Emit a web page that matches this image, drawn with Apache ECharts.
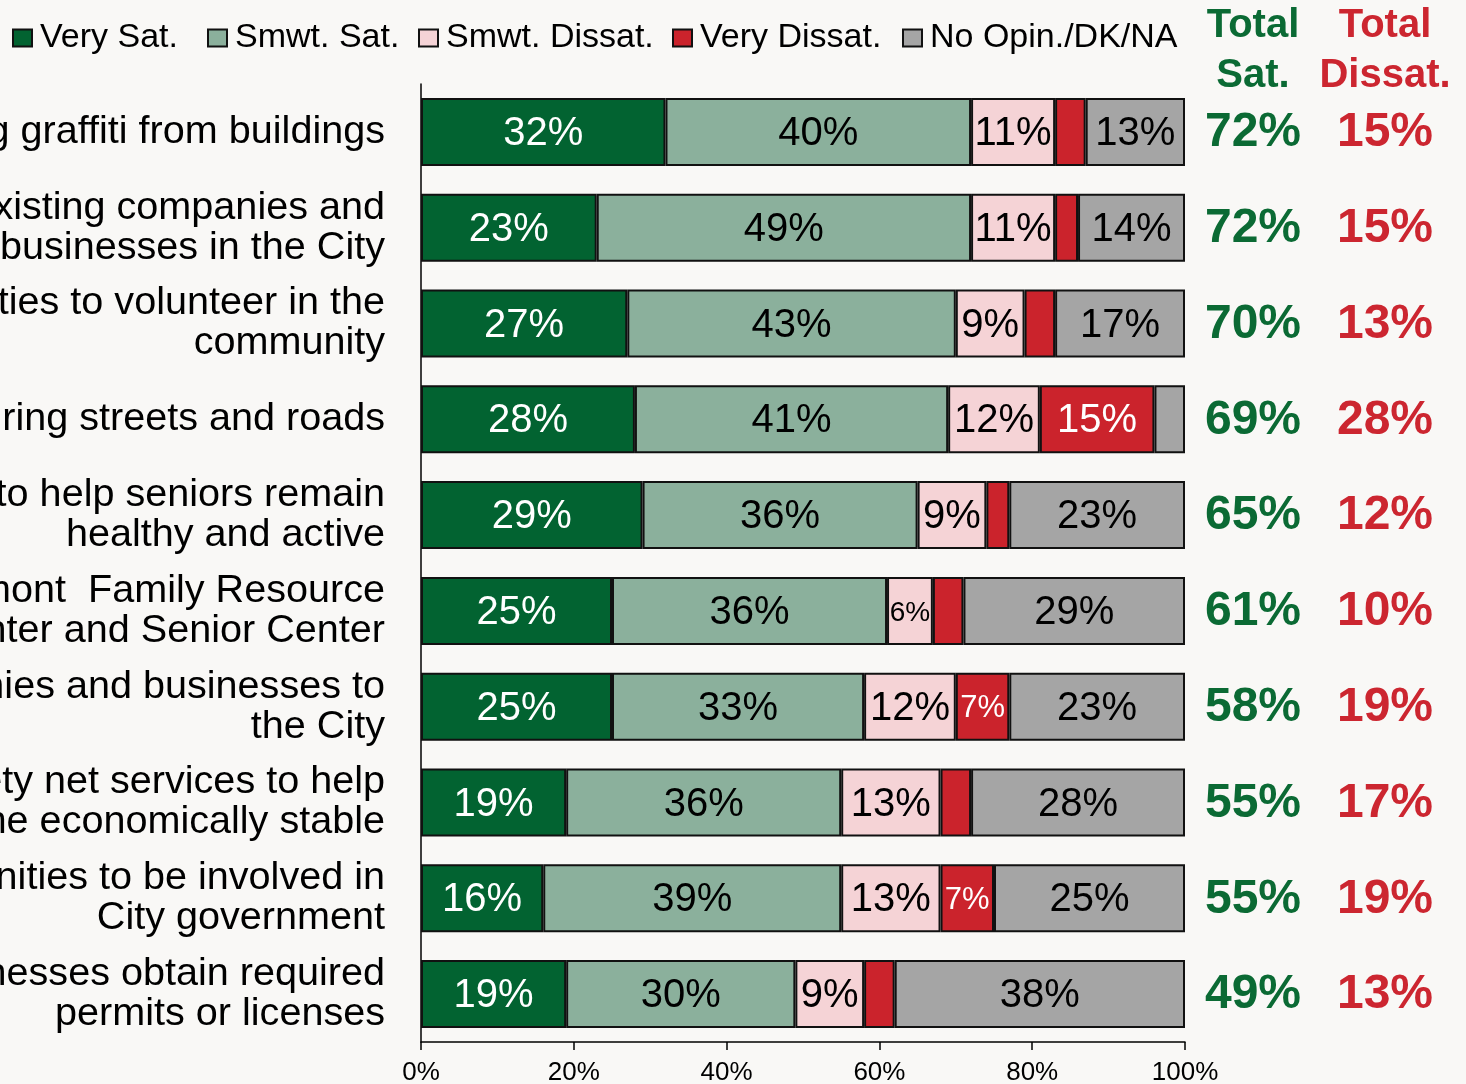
<!DOCTYPE html>
<html>
<head>
<meta charset="utf-8">
<title>Satisfaction with City Services</title>
<script src="https://cdn.jsdelivr.net/npm/echarts@6/dist/echarts.min.js"></script>
<style>
  html, body { margin: 0; padding: 0; background: #f9f8f6; }
  #chart { width: 1466px; height: 1084px; }
</style>
</head>
<body>
<div id="chart"></div>
<script>
// Survey items, top to bottom
const categories = [
  'Removing graffiti from buildings',
  'Retaining existing companies and\nbusinesses in the City',
  'Opportunities to volunteer in the\ncommunity',
  'Repairing streets and roads',
  'Programs to help seniors remain\nhealthy and active',
  'Fremont  Family Resource\nCenter and Senior Center',
  'Attracting new companies and businesses to\nthe City',
  'Providing safety net services to help\nresidents become economically stable',
  'Opportunities to be involved in\nCity government',
  'Helping businesses obtain required\npermits or licenses'
];

// Response shares (%)
const verySat    = [32, 23, 27, 28, 29, 25, 25, 19, 16, 19];
const smwtSat    = [40, 49, 43, 41, 36, 36, 33, 36, 39, 30];
const smwtDissat = [11, 11,  9, 12,  9,  6, 12, 13, 13,  9];
const veryDissat = [ 4,  3,  4, 15,  3,  4,  7,  4,  7,  4];
const noOpinion  = [13, 14, 17,  4, 23, 29, 23, 28, 25, 38];

// Summary columns (%)
const totalSat    = [72, 72, 70, 69, 65, 61, 58, 55, 55, 49];
const totalDissat = [15, 15, 13, 28, 12, 10, 19, 17, 19, 13];

const xTicks = [0, 20, 40, 60, 80, 100];
const summaryColumns = ['Total Sat.', 'Total Dissat.'];

const FONT = "'Liberation Sans', Arial, Helvetica, sans-serif";
const GREEN = '#026331';
const RED = '#cb232c';
const GREEN_TXT = '#0b6a34';
const RED_TXT = '#cc2630';

// Label size shrinks for narrow segments; the tiniest ones stay unlabeled
function segData(values) {
  return values.map(v => {
    let fs = 40;
    if (v < 6) return { value: v, label: { show: false } };
    if (v === 6) fs = 28;
    else if (v === 7) fs = 31;
    return { value: v, label: { fontSize: fs } };
  });
}

function barSeries(name, values, color, labelColor) {
  return {
    name: name,
    type: 'bar',
    stack: 'total',
    xAxisIndex: 0,
    yAxisIndex: 0,
    barWidth: 68,
    data: segData(values),
    itemStyle: { color: color, borderColor: '#111', borderWidth: 2 },
    label: {
      show: true,
      position: 'inside',
      offset: [0, 2],
      formatter: '{c}%',
      color: labelColor,
      fontFamily: FONT,
      fontSize: 40
    },
    emphasis: { disabled: true }
  };
}

function summarySeries(name, colIndex, values, color) {
  return {
    name: name,
    type: 'scatter',
    xAxisIndex: 1,
    yAxisIndex: 1,
    symbol: 'circle',
    symbolSize: 1,
    itemStyle: { color: 'transparent', opacity: 1 },
    data: values.map((v, i) => [colIndex, i, v]),
    label: {
      show: true,
      position: 'inside',
      offset: [0, 1],
      formatter: p => p.value[2] + '%',
      color: color,
      fontFamily: FONT,
      fontWeight: 'bold',
      fontSize: 48
    },
    emphasis: { disabled: true }
  };
}

const legendNames = ['Very Sat.', 'Smwt. Sat.', 'Smwt. Dissat.', 'Very Dissat.', 'No Opin./DK/NA'];
const legendLeft = [12, 207, 418, 672, 902];

const chart = echarts.init(document.getElementById('chart'), null, { renderer: 'canvas' });

chart.setOption({
  backgroundColor: '#f9f8f6',
  animation: false,
  textStyle: { fontFamily: FONT },
  legend: legendNames.map((n, i) => ({
    data: [n],
    left: legendLeft[i],
    top: 21,
    icon: 'rect',
    itemWidth: 19,
    itemHeight: 17,
    padding: 0,
    selectedMode: false,
    textStyle: { fontFamily: FONT, fontSize: 34, color: '#000', padding: [0, 0, 0, 3] }
  })),
  grid: [
    { left: 421, right: 281, top: 84, bottom: 42, containLabel: false, outerBoundsMode: 'none' },
    { left: 1187, width: 264, top: 84, bottom: 42, containLabel: false, outerBoundsMode: 'none' }
  ],
  xAxis: [
    {
      type: 'value',
      gridIndex: 0,
      min: 0,
      max: 100,
      interval: 20,
      splitLine: { show: false },
      axisLine: { show: true, lineStyle: { color: '#000', width: 1.5 } },
      axisTick: { show: true, length: 8, lineStyle: { color: '#000', width: 1.5 } },
      axisLabel: {
        formatter: v => (xTicks.includes(v) ? v + '%' : ''),
        color: '#000',
        fontFamily: FONT,
        fontSize: 26,
        margin: 18
      }
    },
    {
      type: 'category',
      gridIndex: 1,
      position: 'top',
      data: summaryColumns,
      axisLine: { show: false },
      axisTick: { show: false },
      axisLabel: {
        margin: -17,
        interval: 0,
        formatter: (v, i) => i === 0 ? '{g|Total}\n{g|Sat.}' : '{r|Total}\n{r|Dissat.}',
        rich: {
          g: { color: GREEN_TXT, fontFamily: FONT, fontWeight: 'bold', fontSize: 40, lineHeight: 50 },
          r: { color: RED_TXT, fontFamily: FONT, fontWeight: 'bold', fontSize: 40, lineHeight: 50 }
        }
      }
    }
  ],
  yAxis: [
    {
      type: 'category',
      gridIndex: 0,
      inverse: true,
      data: categories,
      axisLine: { show: true, lineStyle: { color: '#000', width: 1.5 } },
      axisTick: { show: false },
      axisLabel: {
        color: '#000',
        fontFamily: FONT,
        fontSize: 39.6,
        lineHeight: 40,
        align: 'right',
        margin: 36
      }
    },
    {
      type: 'category',
      gridIndex: 1,
      inverse: true,
      data: categories,
      show: false
    }
  ],
  series: [
    barSeries('Very Sat.', verySat, GREEN, '#fff'),
    barSeries('Smwt. Sat.', smwtSat, '#8bb09c', '#000'),
    barSeries('Smwt. Dissat.', smwtDissat, '#f5d3d6', '#000'),
    barSeries('Very Dissat.', veryDissat, RED, '#fff'),
    barSeries('No Opin./DK/NA', noOpinion, '#a5a5a5', '#000'),
    summarySeries('Total Sat.', 0, totalSat, GREEN_TXT),
    summarySeries('Total Dissat.', 1, totalDissat, RED_TXT)
  ]
});
</script>
</body>
</html>
